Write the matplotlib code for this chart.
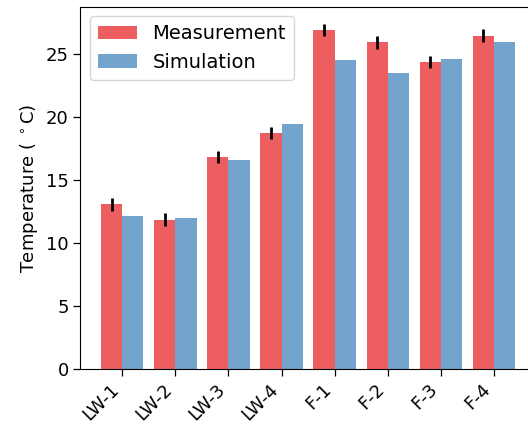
import numpy as np
import matplotlib
matplotlib.use("Agg")
import matplotlib.pyplot as plt

# Temperature per case: measurement (with error) vs simulation
cases = ["LW-1", "LW-2", "LW-3", "LW-4", "F-1", "F-2", "F-3", "F-4"]
measurement = [13.05, 11.85, 16.8, 18.7, 26.9, 25.9, 24.35, 26.45]
meas_err = [0.5, 0.5, 0.47, 0.48, 0.47, 0.5, 0.47, 0.48]
simulation = [12.1, 11.95, 16.55, 19.4, 24.5, 23.5, 24.6, 25.9]

fig = plt.figure(figsize=(5.28, 4.25), dpi=100)
# axes run a little past the right edge (the original was cropped there)
ax = fig.add_axes([0.1521, 0.1318, 0.8629, 0.8525])

x = np.arange(len(cases))
w = 0.4
ax.bar(x - w/2, measurement, w, yerr=meas_err, color="#e41a1c", alpha=0.7,
       label="Measurement", error_kw=dict(ecolor="black", elinewidth=2, capsize=0))
ax.bar(x + w/2, simulation, w, color="#377eb8", alpha=0.7, label="Simulation")

ax.set_xticks(x)
ax.set_xticklabels(cases, rotation=45, ha="right", fontsize=13)
ax.tick_params(axis="y", labelsize=13)
ax.tick_params(length=4.8, width=0.9)
ax.set_yticks([0, 5, 10, 15, 20, 25])
ax.set_ylabel(r"Temperature ( $^\circ$C)", fontsize=13)
ax.legend(loc="upper left", fontsize=14)

fig.savefig("out.png", dpi=100)
